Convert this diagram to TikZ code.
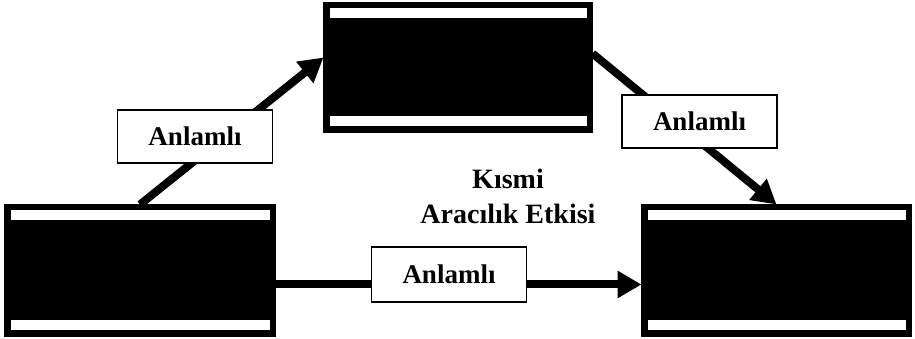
\documentclass[tikz,border=0pt]{standalone}
\usepackage{fontspec}
\setmainfont{Liberation Serif}
\usetikzlibrary{arrows.meta}

\tikzset{
  varbox/.style={rectangle, fill=black, draw=black, line width=1pt,
    inner sep=0pt, outer sep=0pt},
  tag/.style={rectangle, draw=black, fill=white, line width=1.5pt,
    inner sep=0pt, minimum width=155pt, minimum height=53pt,
    font=\fontsize{27}{30}\selectfont\bfseries},
  link/.style={line width=8pt, -{Triangle[length=24pt,width=26pt]}}
}

\begin{document}
\begin{tikzpicture}[x=1pt,y=1pt]
  \useasboundingbox (0,0) rectangle (915,339);

  % three variable boxes
  \node[varbox, minimum width=271pt, minimum height=132pt] (L) at (140,68.5) {};
  \node[varbox, minimum width=269pt, minimum height=130pt] (T) at (458,271.5) {};
  \node[varbox, minimum width=270pt, minimum height=132pt] (R) at (776.5,68.5) {};

  % white bands near the top and bottom of each box
  \foreach \b in {L,T,R}{
    \fill[white] ([xshift=6pt,yshift=-6pt]\b.north west) rectangle ([xshift=-6pt,yshift=-16pt]\b.north east);
    \fill[white] ([xshift=6pt,yshift=6pt]\b.south west) rectangle ([xshift=-6pt,yshift=16pt]\b.south east);
  }

  % paths between the boxes
  \draw[link] (L.north) -- ([yshift=10pt]T.west);
  \draw[link] ([yshift=14pt]T.east) -- (R.north);
  \draw[link] ([yshift=-14pt]L.east) -- ([yshift=-14pt]R.west);

  % path labels
  \node[tag] (la) at (195,202.5) {Anlamlı};
  \node[tag] (ra) at (699.5,217.5) {Anlamlı};
  \node[tag, minimum height=55pt] (ba) at (449,64.5) {Anlamlı};

  % mediation note
  \node[align=center, font=\fontsize{28}{35}\selectfont\bfseries] (note) at (508,143) {Kısmi\\Aracılık Etkisi};
\end{tikzpicture}
\end{document}
